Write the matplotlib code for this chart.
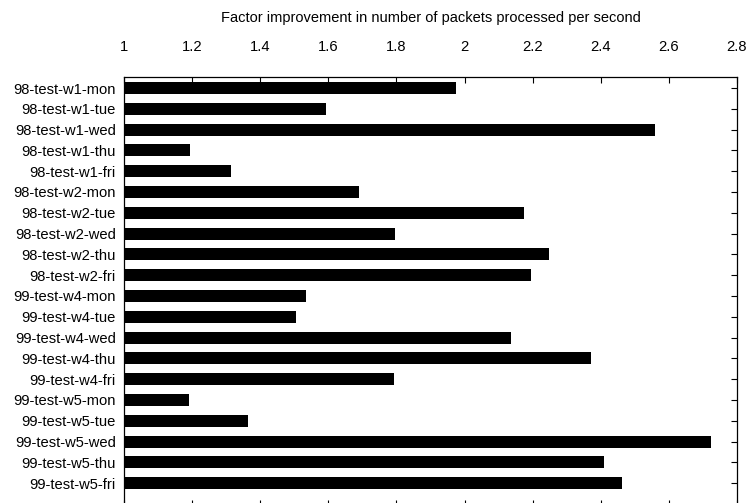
import matplotlib
matplotlib.use("Agg")
import matplotlib.pyplot as plt
import numpy as np

plt.rcParams['font.family'] = ['Liberation Sans', 'DejaVu Sans']

traces = ['98-test-w1-mon', '98-test-w1-tue', '98-test-w1-wed', '98-test-w1-thu', '98-test-w1-fri',
          '98-test-w2-mon', '98-test-w2-tue', '98-test-w2-wed', '98-test-w2-thu', '98-test-w2-fri',
          '99-test-w4-mon', '99-test-w4-tue', '99-test-w4-wed', '99-test-w4-thu', '99-test-w4-fri',
          '99-test-w5-mon', '99-test-w5-tue', '99-test-w5-wed', '99-test-w5-thu', '99-test-w5-fri']
factor = [1.974, 1.592, 2.560, 1.193, 1.313,
          1.690, 2.175, 1.797, 2.247, 2.196,
          1.534, 1.505, 2.135, 2.371, 1.792,
          1.192, 1.364, 2.725, 2.408, 2.463]
xticks = [1, 1.2, 1.4, 1.6, 1.8, 2, 2.2, 2.4, 2.6, 2.8]
xticklabels = ['1', '1.2', '1.4', '1.6', '1.8', '2', '2.2', '2.4', '2.6', '2.8']

fig = plt.figure(figsize=(7.49, 5.03), dpi=100)
# bottom border sits just below the image edge, as in the original
ax = fig.add_axes([124/749, -3/503, 613/749, 429/503])

pos = np.arange(len(traces))
base = 1.0
ax.barh(pos, np.array(factor) - base, left=base, height=0.58, color='black')

ax.set_xlim(1, 2.8)
ax.set_ylim(20.1, -0.53)

ax.set_xticks(xticks)
ax.set_xticklabels(xticklabels)
ax.set_yticks(pos)
ax.set_yticklabels(traces)

fs = 10.6
ax.xaxis.set_ticks_position('both')
ax.xaxis.set_label_position('top')
ax.tick_params(axis='x', direction='in', length=4, width=0.8, labeltop=True,
               labelbottom=False, pad=16.5, labelsize=fs)
ax.tick_params(axis='y', direction='in', length=4, width=0.8, left=True, right=True,
               labelleft=True, labelright=False, pad=6, labelsize=fs)
ax.set_xlabel('Factor improvement in number of packets processed per second',
              fontsize=10.5, labelpad=13)

for s in ax.spines.values():
    s.set_linewidth(0.9)

fig.savefig('out.png', dpi=100)
